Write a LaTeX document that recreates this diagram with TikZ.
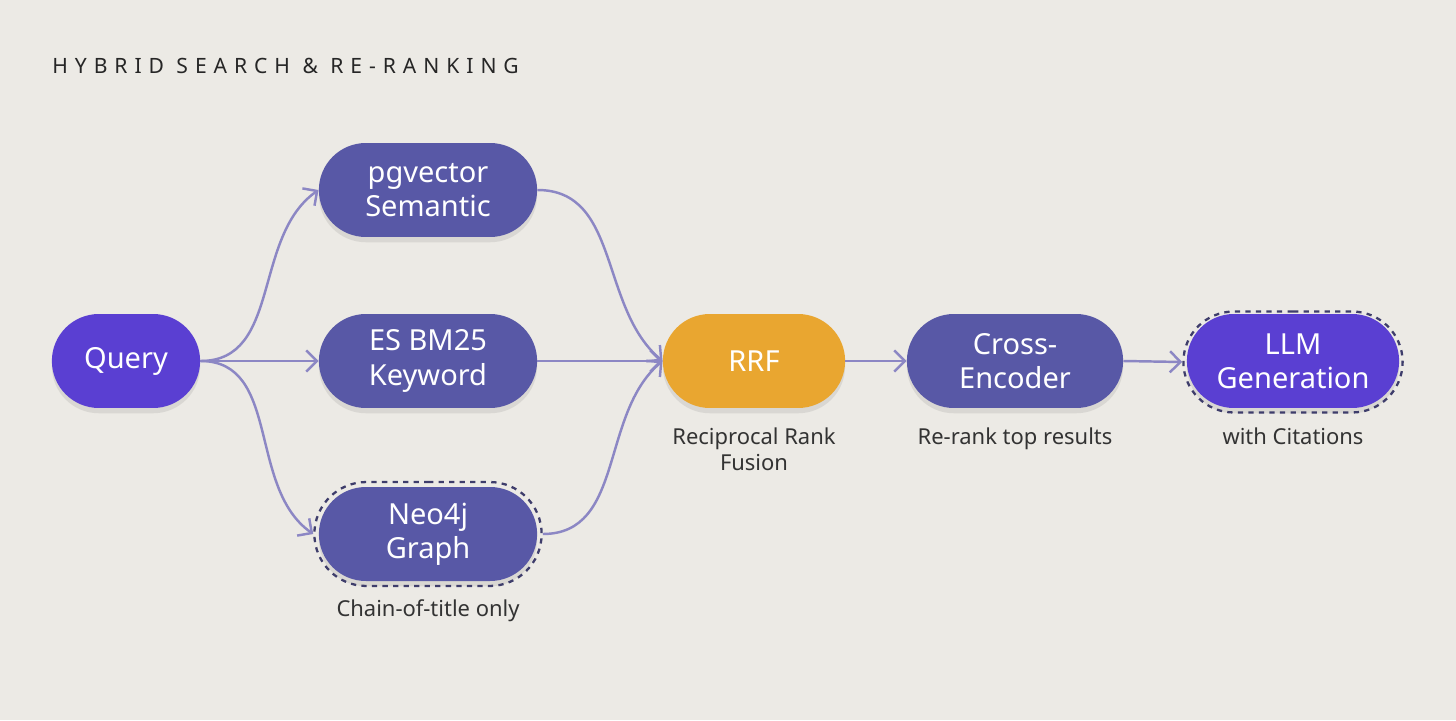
\documentclass[tikz,border=0pt]{standalone}
\usepackage{fontspec}
\setmainfont{Noto Sans}
\newfontfamily\titlefont[LetterSpace=33]{Noto Sans}
\usepackage{tikz}
\usetikzlibrary{arrows.meta,shapes.misc,positioning,shadows}

\definecolor{bgc}{HTML}{ECEAE5}
\definecolor{violet}{HTML}{5A3FD2}
\definecolor{slate}{HTML}{5858A6}
\definecolor{amber}{HTML}{E9A630}
\definecolor{wire}{HTML}{8C87C4}
\definecolor{ringc}{HTML}{3E3D6B}
\definecolor{note}{HTML}{333333}

\tikzset{
  pill/.style={rounded rectangle, text=white, align=center, minimum height=1.88cm,
    font=\fontsize{16.5}{19.5}\selectfont,
    drop shadow={shadow xshift=0pt, shadow yshift=-3pt, opacity=0.08, fill=black}},
  ring/.style={rounded rectangle, draw=ringc, dashed, line width=1.3pt},
  flow/.style={draw=wire, line width=1.4pt, -{Straight Barb[length=6pt,width=12pt,line width=1.4pt]}},
  note/.style={text=note, align=center, inner sep=0pt, font=\fontsize{12.5}{14.8}\selectfont}
}

\begin{document}
\begin{tikzpicture}[x=0.02cm,y=-0.02cm]
\fill[bgc] (0,0) rectangle (1456,720);
\node[anchor=base west, inner sep=0pt, text=black!85, font=\titlefont\fontsize{12}{14}\selectfont] (title) at (52,73) {HYBRID SEARCH \& RE-RANKING};

\node[pill, fill=violet, minimum width=3.2cm] (q) at (126,361) {Query};
\node[pill, fill=slate, minimum width=4.6cm] (pg) at (428,190) {pgvector\\Semantic};
\node[pill, fill=slate, minimum width=4.6cm] (es) at (428,361) {ES BM25\\Keyword};
\node[pill, fill=slate, minimum width=4.6cm] (neo) at (428,534) {Neo4j\\Graph};
\node[ring, minimum width=4.78cm, minimum height=2.08cm] (neoring) at (428,534) {};
\node[pill, fill=amber, minimum width=3.88cm] (rrf) at (754,361) {RRF};
\node[pill, fill=slate, minimum width=4.56cm] (ce) at (1015,361) {Cross-\\Encoder};
\node[pill, fill=violet, minimum width=4.48cm] (llm) at (1293,361) {LLM\\Generation};
\node[ring, minimum width=4.62cm, minimum height=2.02cm] (llmring) at (1293,362) {};

\node[note, below=0.24cm of neoring] (neonote) {Chain-of-title only};
\node[note, below=0.38cm of rrf] (rrfnote) {Reciprocal Rank\\Fusion};
\node[note, below=0.38cm of ce] (cenote) {Re-rank top results};
\node[note, below=0.38cm of llm] (llmnote) {with Citations};

\draw[flow] (q.east) to[out=0,in=215] (pg.west);
\draw[flow] (q.east) -- (es.west);
\draw[flow] (q.east) to[out=0,in=145] (neoring.west);
\draw[flow] (pg.east) to[out=0,in=140] (rrf.west);
\draw[flow] (es.east) -- (rrf.west);
\draw[flow] (neoring.east) to[out=0,in=220] (rrf.west);
\draw[flow] (rrf.east) -- (ce.west);
\draw[flow] (ce.east) -- (llmring.west);
\end{tikzpicture}
\end{document}
